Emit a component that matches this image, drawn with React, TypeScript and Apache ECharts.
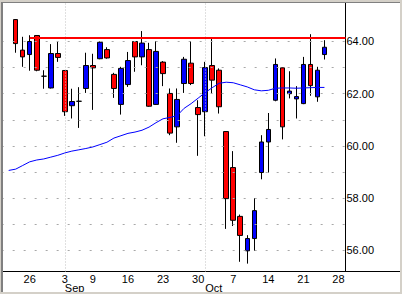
import React, { useEffect, useRef } from 'react';
import * as echarts from 'echarts';

const FONT = '"Liberation Sans", Arial, sans-serif';

// trading-day categories shown on the axis (including empty slots at both ends)
const categories = [
  '2002-08-20', '2002-08-21', '2002-08-22', '2002-08-23', '2002-08-26', '2002-08-27', '2002-08-28',
  '2002-08-29', '2002-08-30', '2002-09-03', '2002-09-04', '2002-09-05', '2002-09-06', '2002-09-09',
  '2002-09-10', '2002-09-11', '2002-09-12', '2002-09-13', '2002-09-16', '2002-09-17', '2002-09-18',
  '2002-09-19', '2002-09-20', '2002-09-23', '2002-09-24', '2002-09-25', '2002-09-26', '2002-09-27',
  '2002-09-30', '2002-10-01', '2002-10-02', '2002-10-03', '2002-10-04', '2002-10-07', '2002-10-08',
  '2002-10-09', '2002-10-10', '2002-10-11', '2002-10-14', '2002-10-15', '2002-10-16', '2002-10-17',
  '2002-10-18', '2002-10-21', '2002-10-22', '2002-10-23', '2002-10-24', '2002-10-25', '2002-10-28',
  '2002-10-29',
];

const dayLabelDates = [
  '2002-08-26', '2002-09-03', '2002-09-09', '2002-09-16', '2002-09-23',
  '2002-09-30', '2002-10-07', '2002-10-14', '2002-10-21', '2002-10-28',
];
const monthStartDates = ['2002-09-03', '2002-10-01'];
const monthNames = ['Sep', 'Oct'];

const yLabelValues = [56, 58, 60, 62, 64];
const gridValues = [56, 57, 58, 59, 60, 61, 62, 63, 64];

// candles: Aug 22 .. Oct 24
const candleDates = categories.slice(2, 47);
const opens = [
  64.84, 63.67, 63.50, 64.23, 62.67, 62.22, 63.54, 62.89, 61.54, 61.71,
  62.20, 63.08, 63.34, 63.69, 62.74, 61.59, 62.35, 64.00, 63.41, 63.69,
  61.59, 63.21, 62.01, 60.73, 62.39, 63.17, 61.47, 61.31, 63.08, 62.90,
  60.55, 59.17, 57.30, 55.98, 56.45, 58.98, 60.15, 61.75, 62.99, 62.00,
  61.80, 61.62, 63.12, 61.88, 63.50,
];
const closes = [
  63.92, 63.41, 64.00, 62.90, 62.67, 63.54, 63.39, 61.31, 61.70, 61.71,
  63.08, 62.99, 63.97, 63.37, 62.20, 62.97, 63.27, 63.41, 63.94, 61.52,
  63.62, 62.77, 60.49, 61.78, 63.32, 62.39, 61.20, 63.00, 62.52, 61.50,
  57.98, 57.15, 56.57, 56.45, 57.52, 60.15, 60.63, 63.12, 60.73, 62.10,
  61.89, 63.12, 62.31, 62.90, 63.78,
];
const lows = [
  63.57, 63.03, 62.88, 62.86, 62.19, 62.20, 63.22, 61.15, 61.05, 60.69,
  62.03, 61.38, 63.32, 63.34, 61.84, 61.20, 62.26, 62.84, 63.09, 61.50,
  61.57, 62.29, 60.41, 60.12, 62.03, 62.33, 59.62, 60.37, 62.01, 61.24,
  56.82, 56.93, 55.56, 55.49, 55.98, 58.72, 58.98, 61.71, 60.25, 61.82,
  61.05, 61.60, 61.92, 61.69, 63.31,
];
const highs = [
  64.86, 64.18, 64.24, 64.24, 62.90, 63.90, 64.01, 62.90, 62.19, 62.25,
  63.57, 63.53, 64.00, 63.78, 62.80, 63.03, 63.60, 64.01, 64.40, 63.95,
  64.01, 63.25, 62.20, 62.20, 63.41, 64.01, 61.75, 63.22, 64.13, 62.97,
  60.56, 59.80, 57.37, 56.58, 58.00, 60.41, 61.26, 63.35, 63.00, 62.86,
  62.29, 63.41, 64.28, 63.03, 64.05,
];

// moving average: Aug 21 .. Oct 24
const maDates = categories.slice(1, 47);
const maValues = [
  59.06, 59.11, 59.25, 59.39, 59.46, 59.50, 59.57, 59.64, 59.73, 59.80,
  59.85, 59.90, 59.96, 60.05, 60.14, 60.30, 60.39, 60.48, 60.53, 60.60,
  60.72, 60.89, 61.04, 61.09, 61.16, 61.44, 61.62, 61.83, 62.04, 62.23,
  62.40, 62.44, 62.42, 62.34, 62.26, 62.15, 62.11, 62.13, 62.21, 62.22,
  62.22, 62.21, 62.22, 62.23, 62.24, 62.24,
];

const resistanceLevel = 64.13;
const resistanceStart = '2002-08-26';
const resistanceEnd = '2002-10-29';

export default function App() {
  const ref = useRef<HTMLDivElement>(null);

  useEffect(() => {
    if (!ref.current) return;
    const chart = echarts.init(ref.current, undefined, { renderer: 'svg' });

    const labelBase = { color: '#000', fontSize: 11, fontFamily: FONT, lineHeight: 9 };

    const option: any = {
      animation: false,
      backgroundColor: 'transparent',
      tooltip: { show: false },
      grid: {
        left: 1.67, right: 56.5, top: 3, bottom: 22.5,
        containLabel: false, outerBoundsMode: 'none',
      },
      xAxis: [
        {
          type: 'category',
          data: categories,
          boundaryGap: false,
          axisLine: { onZero: false, lineStyle: { color: '#000', width: 1 } },
          axisTick: { show: false },
          splitLine: { show: false },
          axisLabel: {
            ...labelBase,
            margin: 3,
            interval: (_i: number, v: string) => dayLabelDates.includes(v),
            formatter: (v: string) => String(Number(v.slice(8))),
          },
        },
        {
          type: 'category',
          data: categories,
          boundaryGap: false,
          position: 'bottom',
          axisLine: { show: false },
          axisTick: { show: false },
          splitLine: { show: false },
          axisLabel: {
            ...labelBase,
            margin: 12,
            align: 'left',
            interval: (_i: number, v: string) => monthStartDates.includes(v),
            formatter: (v: string) => {
              const k = monthStartDates.indexOf(v);
              return k >= 0 ? monthNames[k] : '';
            },
          },
        },
      ],
      yAxis: {
        type: 'value',
        position: 'right',
        min: 55.188,
        max: 65.475,
        splitNumber: 5,
        axisLine: { show: true, onZero: false, lineStyle: { color: '#000', width: 1 } },
        axisTick: { show: false },
        splitLine: { show: false },
        axisLabel: {
          color: '#000', fontSize: 11, fontFamily: FONT,
          margin: 1,
          formatter: (v: number) => {
            const r = Math.round(v);
            return Math.abs(v - r) < 1e-6 && yLabelValues.includes(r) ? r.toFixed(2) : '';
          },
        },
      },
      series: [
        {
          type: 'line',
          data: [],
          z: 1,
          silent: true,
          markLine: {
            silent: true,
            symbol: ['none', 'none'],
            label: { show: false },
            emphasis: { disabled: true },
            data: [
              ...gridValues.map((v) => ({
                yAxis: v,
                lineStyle: { color: '#a8a8a8', width: 1, type: [2, 9] },
              })),
              ...monthStartDates.map((d) => ({
                xAxis: categories.indexOf(d),
                lineStyle: { color: '#c0c0c0', width: 1, type: [1, 2] },
              })),
            ],
          },
        },
        {
          type: 'candlestick',
          data: candleDates.map((d, i) => [d, opens[i], closes[i], lows[i], highs[i]]),
          encode: { x: 0, y: [1, 2, 3, 4] },
          barWidth: 5,
          z: 2,
          silent: true,
          itemStyle: {
            color: '#0000ff',
            color0: '#ff0000',
            borderColor: '#000000',
            borderColor0: '#000000',
            borderColorDoji: '#000000',
            borderWidth: 1,
          },
        },
        {
          type: 'line',
          data: maDates.map((d, i) => [d, maValues[i]]),
          showSymbol: false,
          symbol: 'none',
          z: 3,
          silent: true,
          lineStyle: { color: '#0000ff', width: 1 },
        },
        {
          type: 'line',
          data: [],
          z: 4,
          silent: true,
          markLine: {
            silent: true,
            symbol: ['none', 'none'],
            label: { show: false },
            emphasis: { disabled: true },
            lineStyle: { color: '#ff0000', width: 2, type: 'solid' },
            data: [
              [
                { coord: [categories.indexOf(resistanceStart), resistanceLevel] },
                { coord: [categories.indexOf(resistanceEnd), resistanceLevel] },
              ],
            ],
          },
        },
      ],
      graphic: [
        { type: 'rect', z: 100, silent: true, shape: { x: 0, y: 0, width: 402, height: 2 }, style: { fill: '#d4d0c8' } },
        { type: 'rect', z: 100, silent: true, shape: { x: 0, y: 292, width: 402, height: 2 }, style: { fill: '#d4d0c8' } },
        { type: 'rect', z: 100, silent: true, shape: { x: 0, y: 0, width: 1, height: 294 }, style: { fill: '#d4d0c8' } },
        { type: 'rect', z: 100, silent: true, shape: { x: 400, y: 0, width: 2, height: 294 }, style: { fill: '#d4d0c8' } },
        { type: 'rect', z: 101, silent: true, shape: { x: 1, y: 2, width: 2, height: 290 }, style: { fill: '#808080' } },
        { type: 'rect', z: 101, silent: true, shape: { x: 1, y: 2, width: 399, height: 1 }, style: { fill: '#808080' } },
        {
          type: 'line', z: 101, silent: true,
          shape: { x1: 345, y1: 271.5, x2: 400, y2: 271.5 },
          style: { stroke: '#000', lineWidth: 1 },
        },
      ],
    };

    chart.setOption(option);
    return () => chart.dispose();
  }, []);

  return (
    <div
      ref={ref}
      style={{ position: 'absolute', left: 0, top: 0, width: 402, height: 294, background: '#ffffff' }}
    />
  );
}
